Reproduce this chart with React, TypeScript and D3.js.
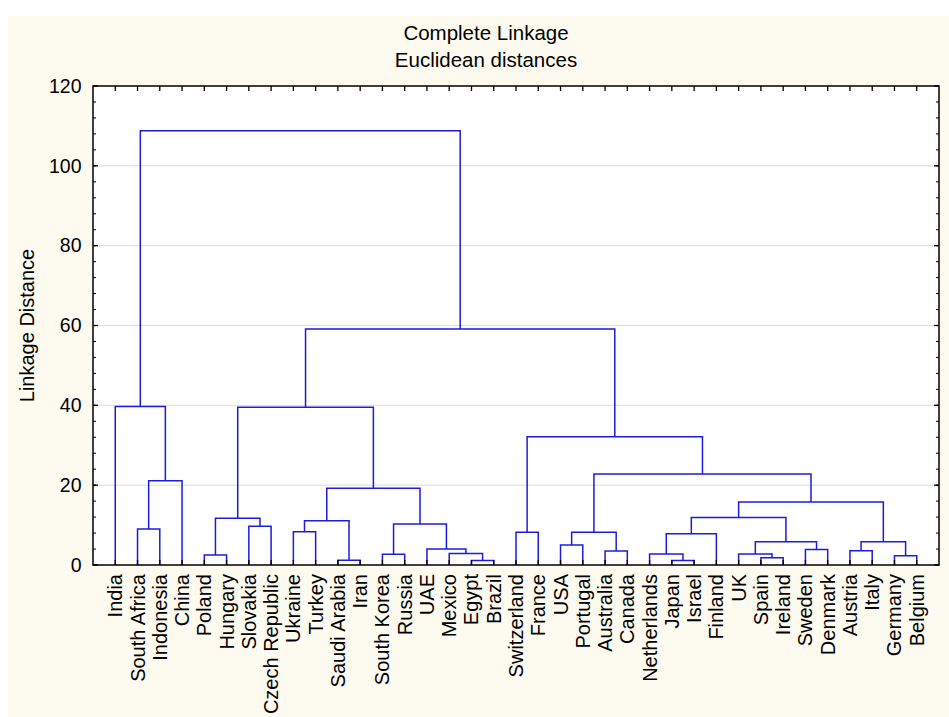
import { useMemo } from 'react';
import * as d3 from 'd3';

const WIDTH = 949;
const HEIGHT = 717;
const MARGIN = { top: 86, right: 10, bottom: 152, left: 93 };
const FONT = '"Liberation Sans", Arial, sans-serif';
const LINE_COLOR = '#1c1ce0';

const TITLE = ['Complete Linkage', 'Euclidean distances'];
const Y_LABEL = 'Linkage Distance';
const Y_DOMAIN = [0, 120];
const MINOR_STEP = 4;

// leaf order along the x axis
const leaves = [
  'India', 'South Africa', 'Indonesia', 'China', 'Poland', 'Hungary', 'Slovakia',
  'Czech Republic', 'Ukraine', 'Turkey', 'Saudi Arabia', 'Iran', 'South Korea',
  'Russia', 'UAE', 'Mexico', 'Egypt', 'Brazil', 'Switzerland', 'France', 'USA',
  'Portugal', 'Australia', 'Canada', 'Netherlands', 'Japan', 'Israel', 'Finland',
  'UK', 'Spain', 'Ireland', 'Sweden', 'Denmark', 'Austria', 'Italy', 'Germany', 'Belgium',
];

// [id, left, right, distance] - left/right are leaf names or earlier ids
const merges: [string, string, string, number][] = [
  ['m1', 'South Africa', 'Indonesia', 9.0],
  ['m2', 'm1', 'China', 21.1],
  ['m3', 'India', 'm2', 39.7],
  ['m4', 'Poland', 'Hungary', 2.5],
  ['m5', 'Slovakia', 'Czech Republic', 9.7],
  ['m6', 'm4', 'm5', 11.7],
  ['m7', 'Ukraine', 'Turkey', 8.3],
  ['m8', 'Saudi Arabia', 'Iran', 1.2],
  ['m9', 'm7', 'm8', 11.1],
  ['m10', 'South Korea', 'Russia', 2.7],
  ['m11', 'Egypt', 'Brazil', 1.1],
  ['m12', 'Mexico', 'm11', 2.9],
  ['m13', 'UAE', 'm12', 4.0],
  ['m14', 'm10', 'm13', 10.3],
  ['m15', 'm9', 'm14', 19.2],
  ['m16', 'm6', 'm15', 39.5],
  ['m17', 'Switzerland', 'France', 8.2],
  ['m18', 'USA', 'Portugal', 5.0],
  ['m19', 'Australia', 'Canada', 3.5],
  ['m20', 'm18', 'm19', 8.2],
  ['m21', 'Japan', 'Israel', 1.15],
  ['m22', 'Netherlands', 'm21', 2.75],
  ['m23', 'm22', 'Finland', 7.8],
  ['m24', 'Spain', 'Ireland', 1.8],
  ['m25', 'UK', 'm24', 2.75],
  ['m26', 'Sweden', 'Denmark', 3.9],
  ['m27', 'm25', 'm26', 5.8],
  ['m28', 'm23', 'm27', 11.9],
  ['m29', 'Austria', 'Italy', 3.6],
  ['m30', 'Germany', 'Belgium', 2.3],
  ['m31', 'm29', 'm30', 5.8],
  ['m32', 'm28', 'm31', 15.8],
  ['m33', 'm20', 'm32', 22.8],
  ['m34', 'm17', 'm33', 32.1],
  ['m35', 'm16', 'm34', 59.1],
  ['m36', 'm3', 'm35', 108.8],
];

const App = () => {
  const innerW = WIDTH - MARGIN.left - MARGIN.right;
  const innerH = HEIGHT - MARGIN.top - MARGIN.bottom;

  const xScale = d3.scalePoint<string>().domain(leaves).range([0, innerW]).padding(1);
  const yScale = d3.scaleLinear().domain(Y_DOMAIN).range([innerH, 0]);

  const links = useMemo(() => {
    const pos = new Map<string, { x: number; h: number }>();
    leaves.forEach((l) => pos.set(l, { x: xScale(l)!, h: 0 }));
    return merges.map(([id, a, b, h]) => {
      const pa = pos.get(a)!;
      const pb = pos.get(b)!;
      pos.set(id, { x: (pa.x + pb.x) / 2, h });
      const p = d3.path();
      p.moveTo(pa.x, yScale(pa.h));
      p.lineTo(pa.x, yScale(h));
      p.lineTo(pb.x, yScale(h));
      p.lineTo(pb.x, yScale(pb.h));
      return { id, d: p.toString() };
    });
  }, []);

  const majorTicks = yScale.ticks(6);
  const minorTicks = d3.range(Y_DOMAIN[0], Y_DOMAIN[1] + 1, MINOR_STEP);

  return (
    <svg
      width={WIDTH}
      height={HEIGHT}
      style={{ position: 'absolute', left: 0, top: 0 }}
      fontFamily={FONT}
    >
      <rect width={WIDTH} height={HEIGHT} fill="#ffffff" />
      <rect x={8} y={16} width={WIDTH - 8} height={HEIGHT - 16} fill="#fdfaf0" />

      <text x={486} y={40} textAnchor="middle" fontSize={20.5}>{TITLE[0]}</text>
      <text x={486} y={67} textAnchor="middle" fontSize={20.5}>{TITLE[1]}</text>

      <text
        transform={`translate(34,${MARGIN.top + innerH / 2}) rotate(-90)`}
        textAnchor="middle"
        fontSize={20}
      >
        {Y_LABEL}
      </text>

      <g transform={`translate(${MARGIN.left},${MARGIN.top})`}>
        <rect width={innerW} height={innerH} fill="#ffffff" />
        {majorTicks
          .filter((t) => t > Y_DOMAIN[0] && t < Y_DOMAIN[1])
          .map((t) => (
            <line key={t} x1={0} x2={innerW} y1={yScale(t)} y2={yScale(t)} stroke="#dcdcdc" strokeWidth={1} />
          ))}

        {links.map((l) => (
          <path key={l.id} d={l.d} fill="none" stroke={LINE_COLOR} strokeWidth={1.5} />
        ))}

        {/* minor & major ticks, left and right, inward */}
        {minorTicks.map((t) => (
          <g key={'mn' + t}>
            <line x1={0} x2={3} y1={yScale(t)} y2={yScale(t)} stroke="#000" />
            <line x1={innerW} x2={innerW - 3} y1={yScale(t)} y2={yScale(t)} stroke="#000" />
          </g>
        ))}
        {majorTicks.map((t) => (
          <g key={'mj' + t}>
            <line x1={0} x2={5} y1={yScale(t)} y2={yScale(t)} stroke="#000" strokeWidth={1.3} />
            <line x1={innerW} x2={innerW - 5} y1={yScale(t)} y2={yScale(t)} stroke="#000" strokeWidth={1.3} />
            <text x={-11.5} y={yScale(t)} dy="0.35em" textAnchor="end" fontSize={19.5}>
              {t}
            </text>
          </g>
        ))}

        {leaves.map((l) => (
          <g key={l}>
            <line x1={xScale(l)} x2={xScale(l)} y1={0} y2={5} stroke="#000" strokeWidth={1.3} />
            <line x1={xScale(l)} x2={xScale(l)} y1={innerH} y2={innerH - 5} stroke="#000" strokeWidth={1.3} />
            <text
              transform={`translate(${xScale(l)},${innerH + 9}) rotate(-90)`}
              dy="0.35em"
              textAnchor="end"
              fontSize={20}
            >
              {l}
            </text>
          </g>
        ))}

        <rect width={innerW} height={innerH} fill="none" stroke="#000" strokeWidth={1.5} />
      </g>
    </svg>
  );
};

export default App;
